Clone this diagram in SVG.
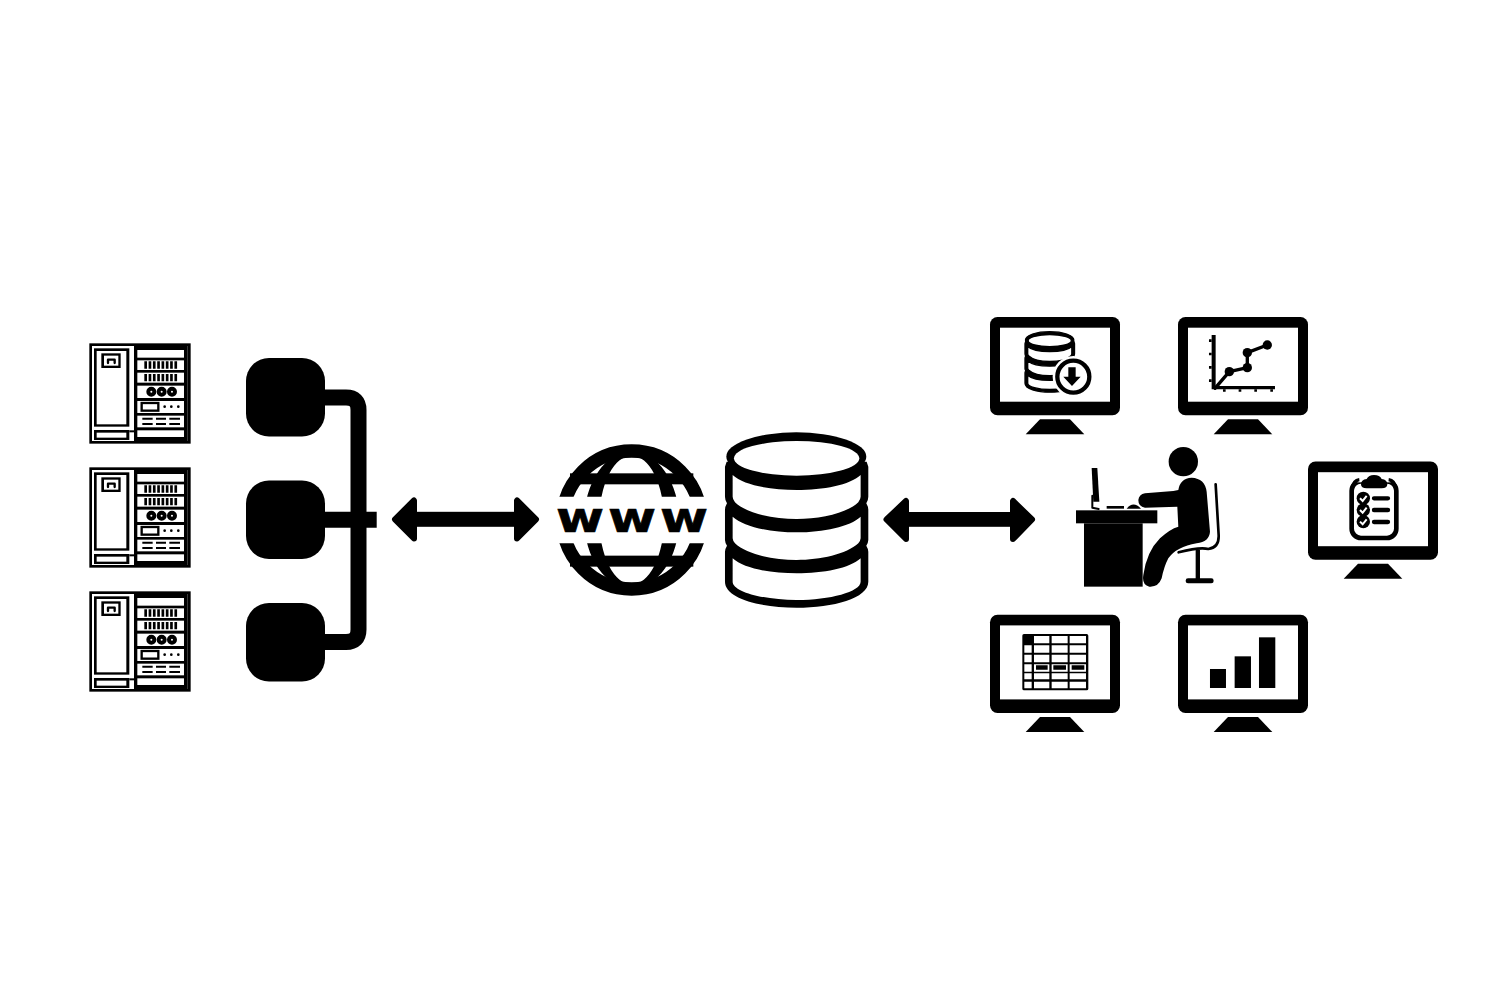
<svg xmlns="http://www.w3.org/2000/svg" width="1500" height="1000" viewBox="0 0 1500 1000">
<style>
.k{fill:#000}.w{fill:#fff}
.ln{fill:none;stroke:#000;stroke-linecap:round;stroke-linejoin:round}
.bus{fill:none;stroke:#000;stroke-width:16}
.head{fill:#000;stroke:#000;stroke-width:6;stroke-linejoin:round}
.www{font-family:"DejaVu Sans",sans-serif;font-weight:700;font-size:130px;fill:#000;stroke:#000;stroke-width:2}
</style>
<defs>
<g id="srv">
<rect class="k" x="28" y="25" width="304" height="301"/>
<rect class="w" x="36" y="33" width="287" height="285"/>
<rect class="k" x="42" y="40" width="106" height="235"/>
<rect class="w" x="50" y="48" width="89" height="220"/>
<rect class="k" x="42" y="285" width="106" height="30"/>
<rect class="w" x="50" y="293" width="89" height="15"/>
<rect class="k" x="64" y="55" width="58" height="44"/>
<rect class="w" x="72" y="62" width="43" height="30"/>
<path class="ln" d="M84 84V74H104V84" stroke-width="7"/>
<rect class="k" x="148" y="286" width="14" height="6"/>
<rect class="k" x="162" y="33" width="161" height="285"/>
<rect class="w" x="172" y="45" width="140" height="23"/>
<rect class="w" x="172" y="76" width="140" height="29"/>
<rect class="w" x="172" y="113" width="140" height="30"/>
<rect class="w" x="172" y="152" width="140" height="37"/>
<rect class="w" x="172" y="198" width="140" height="36"/>
<rect class="w" x="172" y="242" width="140" height="35"/>
<rect class="w" x="172" y="286" width="140" height="20"/>
<line x1="193" x2="296" y1="90" y2="90" stroke="#000" stroke-width="22" stroke-dasharray="8 4.900"/>
<line x1="193" x2="296" y1="128" y2="128" stroke="#000" stroke-width="22" stroke-dasharray="8 4.900"/>
<circle cx="214" cy="170" r="9" fill="#fff" stroke="#000" stroke-width="12"/>
<circle cx="245" cy="170" r="9" fill="#fff" stroke="#000" stroke-width="12"/>
<circle cx="276" cy="170" r="9" fill="#fff" stroke="#000" stroke-width="12"/>
<rect x="185" y="204" width="50" height="23" fill="#fff" stroke="#000" stroke-width="7"/>
<circle class="k" cx="254" cy="215" r="4"/><circle class="k" cx="274" cy="215" r="4"/><circle class="k" cx="295" cy="215" r="4"/>
<path d="M187 251H218M228 251H258M268 251H300M187 267H218M228 267H258M268 267H300" stroke="#000" stroke-width="6" fill="none"/>
</g>
<g id="mon">
<rect class="k" x="0" y="0" width="130" height="98.3" rx="7.5"/>
<rect class="w" x="10" y="10.7" width="110" height="74"/>
<path class="k" d="M50 102.3H80L94.3 117.3H35.7Z"/>
</g>
<g id="db">
<path class="k" d="M530 110L525 125V215Q525 225 531 235Q525 245 525 255V345Q525 352 531 362Q525 372 525 380V470C525 520 630 548 740 548C850 548 955 520 955 470V380Q955 372 949 362Q955 352 955 345V255Q955 245 949 235Q955 225 955 215V125L950 110Z"/>
<ellipse class="k" cx="739" cy="95" rx="210" ry="73"/>
<ellipse class="w" cx="740" cy="100" rx="188" ry="52"/>
<path class="w" d="M548 150C580 180 660 195 740 195C820 195 900 180 932 150V215Q932 222 925 232C890 265 810 282 740 282C670 282 590 265 555 232Q548 222 548 215Z"/>
<path class="w" d="M548 275C580 305 660 322 740 322C820 322 900 305 932 275V340Q932 346 925 355C890 388 810 405 740 405C670 405 590 388 555 355Q548 346 548 340Z"/>
<path class="w" d="M548 400C580 430 660 445 740 445C820 445 900 430 932 400V470C932 500 840 525 740 525C640 525 548 500 548 470Z"/>
</g>
<clipPath id="gc"><path d="M0 0H500V215H0ZM0 355H500V600H0Z"/></clipPath>
</defs>
<rect class="w" width="1500" height="1000"/>

<g id="server-1" transform="translate(80,335) scale(.3333)"><use href="#srv"/></g>
<g id="server-2" transform="translate(80,459) scale(.3333)"><use href="#srv"/></g>
<g id="server-3" transform="translate(80,583) scale(.3333)"><use href="#srv"/></g>

<g id="connectors">
<path class="bus" d="M320 397.500H346Q358.500 397.500 358.500 410V629.500Q358.500 642 346 642H320"/>
<path class="bus" d="M320 519.700H376.700"/>
<rect class="k" x="414" y="511.800" width="103" height="15"/>
<path class="head" d="M395 519.300L414 500.500V538.500Z"/>
<path class="head" d="M536 519.300L517 500.500V538.500Z"/>
<rect class="k" x="906" y="512" width="107" height="14.800"/>
<path class="head" d="M886.500 519.500L906 501V539Z"/>
<path class="head" d="M1032 519.500L1013 501V539Z"/>
</g>

<g id="node-1"><rect class="k" x="246" y="358" width="79" height="78.500" rx="23"/></g>
<g id="node-2"><rect class="k" x="246" y="480.500" width="79" height="78.500" rx="23"/></g>
<g id="node-3"><rect class="k" x="246" y="603" width="79" height="78.500" rx="23"/></g>

<g id="globe" transform="translate(550,425) scale(.3333)">
<g clip-path="url(#gc)">
<circle cx="245" cy="285" r="207" fill="none" stroke="#000" stroke-width="40"/>
<path class="k" fill-rule="evenodd" d="M103 285A142 205 0 0 1 387 285A142 205 0 0 1 103 285ZM148 285A97 193 0 0 0 342 285A97 193 0 0 0 148 285Z"/>
<rect class="k" x="60" y="145" width="370" height="33"/>
<rect class="k" x="60" y="392" width="370" height="33"/>
</g>
<text class="www" transform="translate(18,320) scale(1.2,1)" x="0 130 260" y="0">www</text>
</g>

<g id="database" transform="translate(550,425) scale(.3333)"><use href="#db"/></g>

<g id="person" transform="translate(1060,435) scale(.3333)">
<rect class="k" x="48" y="226" width="244" height="39"/>
<rect class="k" x="72" y="265" width="176" height="190"/>
<path class="k" d="M95 99H112L118 200H100Z"/>
<path class="ln" d="M97 182L97 218L116 222" stroke-width="6"/>
<rect class="k" x="140" y="213" width="52" height="8"/>
<path class="k" d="M200 221Q220 196 243 221Z"/>
<circle class="k" cx="370" cy="80" r="44"/>
<path class="k" d="M355 165Q360 130 395 128Q435 130 440 170L450 290Q448 320 410 325Q350 335 325 370Q312 395 305 430Q295 457 268 455Q245 450 250 420Q260 350 300 310Q330 282 355 275L352 215L255 218Q235 215 235 195Q237 178 255 175L340 168Z"/>
<path class="ln" d="M467 148L476 300Q478 338 445 342Q420 335 356 352" stroke-width="8"/>
<rect class="k" x="407" y="345" width="13" height="90"/>
<rect class="k" x="377" y="430" width="84" height="15" rx="7"/>
</g>

<g id="monitor-db" transform="translate(990,317)">
<use href="#mon"/>
<g transform="translate(-5,-7) scale(.3333)">
<use href="#db" transform="translate(-61,57.400) scale(.345)" stroke="#000" stroke-width="12"/>
<circle class="w" cx="265" cy="200" r="62"/>
<circle cx="265" cy="200" r="48" fill="#fff" stroke="#000" stroke-width="13"/>
<path class="k" d="M250 172H272V200H287L261 228L235 200H250Z"/>
</g>
</g>

<g id="monitor-chart" transform="translate(1178,317)">
<use href="#mon"/>
<g transform="translate(-193,-7) scale(.3333)">
<path class="k" d="M680 75H692V228H870V238H680Z"/>
<path d="M672 92H680M672 132H680M672 172H680M672 212H680M718 238V245M765 238V245M812 238V245M860 238V245" stroke="#000" stroke-width="8"/>
<path class="ln" d="M690 235L733 185L787 173V128L847 105" stroke-width="10"/>
<circle class="k" cx="733" cy="185" r="14"/><circle class="k" cx="787" cy="173" r="14"/><circle class="k" cx="787" cy="128" r="14"/><circle class="k" cx="847" cy="105" r="14"/>
</g>
</g>

<g id="monitor-list" transform="translate(1308,461.500)">
<use href="#mon"/>
<g transform="translate(-8,-6.500) scale(.3333)">
<rect x="155" y="79" width="134" height="170" rx="28" fill="none" stroke="#000" stroke-width="14"/>
<rect class="w" x="172" y="66" width="100" height="16"/>
<path d="M158 100Q160 76 178 74M286 100Q284 76 266 74" fill="none" stroke="#000" stroke-width="10"/>
<path class="k" d="M183 88Q183 74 200 72Q206 60 222 60Q240 60 245 72Q262 74 262 88Q262 100 245 100H200Q183 100 183 88Z"/>
<circle class="k" cx="190" cy="130" r="20"/><circle class="k" cx="190" cy="165" r="20"/><circle class="k" cx="190" cy="200" r="20"/>
<path d="M180 130L188 138L200 123M180 165L188 173L200 158M180 200L188 208L200 193" fill="none" stroke="#fff" stroke-width="6"/>
<path class="ln" d="M222 130H264M222 165H264M222 201H264" stroke-width="13"/>
</g>
</g>

<g id="monitor-table" transform="translate(990,614.700)">
<use href="#mon"/>
<g transform="translate(-5,-4.700) scale(.3333)">
<rect class="k" x="112" y="72" width="198" height="169" rx="5"/>
<path class="w" d="M118 106H140V128H118ZM118 134H140V157H118ZM118 163H140V185H118ZM118 190H140V208H118ZM118 215H140V235H118Z"/>
<path class="w" d="M147 78H193V100H147ZM200 78H248V100H200ZM254 78H303V100H254ZM147 106H193V128H147ZM200 106H248V128H200ZM254 106H303V128H254ZM147 134H193V157H147ZM200 134H248V157H200ZM254 134H303V157H254ZM147 163H193V185H147ZM200 163H248V185H200ZM254 163H303V185H254ZM147 190H193V208H147ZM200 190H248V208H200ZM254 190H303V208H254ZM147 215H193V235H147ZM200 215H248V235H200ZM254 215H303V235H254Z"/>
<path class="k" d="M153 166H188V179H153ZM205 166H243V179H205ZM260 166H298V179H260Z"/>
</g>
</g>

<g id="monitor-bars" transform="translate(1178,614.700)">
<use href="#mon"/>
<g transform="translate(-193,-4.700) scale(.3333)">
<rect class="k" x="675" y="177" width="48" height="57"/>
<rect class="k" x="749" y="139" width="49" height="95"/>
<rect class="k" x="822" y="82" width="49" height="152"/>
</g>
</g>
</svg>
